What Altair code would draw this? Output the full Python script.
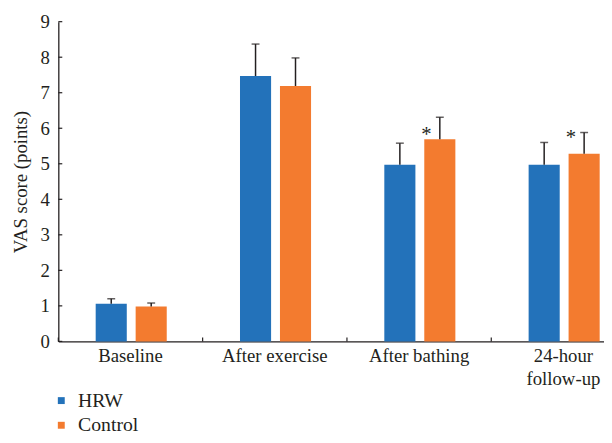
import altair as alt
import pandas as pd

categories = ["Baseline", "After exercise", "After bathing", "24-hour follow-up"]
groups = ["HRW", "Control"]
hrw_mean = [1.06, 7.47, 4.97, 4.97]
hrw_sd = [0.14, 0.90, 0.61, 0.63]
control_mean = [0.98, 7.19, 5.69, 5.28]
control_sd = [0.10, 0.79, 0.62, 0.60]
star_categories = ["After bathing", "24-hour follow-up"]
star_y = [5.63, 5.57]
y_ticks = [0, 1, 2, 3, 4, 5, 6, 7, 8, 9]
colors = ["#2372BA", "#F37B2F"]

rows = []
for c, m, s in zip(categories, hrw_mean, hrw_sd):
    rows.append({"cat": c, "group": "HRW", "mean": m, "upper": round(m + s, 3)})
for c, m, s in zip(categories, control_mean, control_sd):
    rows.append({"cat": c, "group": "Control", "mean": m, "upper": round(m + s, 3)})
df = pd.DataFrame(rows)
stars_df = pd.DataFrame({"cat": star_categories, "group": ["Control"] * len(star_categories),
                         "mean": star_y, "label": ["*"] * len(star_categories)})
yticks_df = pd.DataFrame({"mean": y_ticks})
xticks_df = pd.DataFrame({"cat": categories})

FONT = "Liberation Serif"
INK = "#231f20"
YTITLE = "VAS score (points)"

xscale = alt.Scale(domain=categories, paddingInner=0, paddingOuter=0)
xaxis = alt.Axis(title=None, labelAngle=0, labelPadding=5, ticks=False, tickSize=0,
                 labelOverlap=False, labelLineHeight=24,
                 labelExpr="datum.label == '24-hour follow-up' ? ['24-hour', 'follow-up'] : datum.label")
yscale = alt.Scale(domain=[0, 9], nice=False)
yaxis = alt.Axis(title=YTITLE, values=y_ticks, ticks=False, tickSize=0, grid=False,
                 labelPadding=9, titlePadding=10)
xoff = alt.XOffset("group:N", sort=groups,
                   scale=alt.Scale(domain=groups, paddingInner=0.222, paddingOuter=0.9166,
                                   align=0.51))

X = alt.X("cat:N", sort=categories, scale=xscale, axis=xaxis)
Y = alt.Y("mean:Q", scale=yscale, axis=yaxis, title=YTITLE)

bars = alt.Chart(df).mark_bar().encode(
    x=X, y=Y, xOffset=xoff,
    color=alt.Color("group:N", sort=groups, scale=alt.Scale(domain=groups, range=colors),
                    legend=alt.Legend(title=None, orient="none", legendX=-7, legendY=374,
                                      direction="vertical", symbolType="square",
                                      symbolSize=49, symbolStrokeWidth=0,
                                      labelFont=FONT, labelColor=INK,
                                      labelFontSize=20, labelOffset=7, rowPadding=5)),
)

err = alt.Chart(df).mark_rule(color=INK, strokeWidth=1.5).encode(
    x=X, xOffset=xoff, y=Y, y2="upper:Q"
)
caps = alt.Chart(df).mark_tick(color=INK, thickness=1.5, size=8).encode(
    x=X, xOffset=xoff, y=alt.Y("upper:Q", scale=yscale, axis=yaxis, title=YTITLE)
)
stars = alt.Chart(stars_df).mark_text(font=FONT, fontSize=21, dx=-13.5, baseline="alphabetic",
                                      color=INK).encode(
    x=X, xOffset=xoff, y=Y, text="label:N"
)
ytick_rules = alt.Chart(yticks_df).mark_rule(color=INK, strokeWidth=1.2).encode(
    y=Y, x=alt.value(0), x2=alt.value(4)
)
xtick_rules = alt.Chart(xticks_df).mark_rule(color=INK, strokeWidth=1.2).encode(
    x=alt.X("cat:N", sort=categories, scale=xscale, axis=xaxis, bandPosition=0),
    y=alt.value(320), y2=alt.value(324)
)

chart = alt.layer(bars, err, caps, stars, ytick_rules, xtick_rules).properties(
    width=585, height=324,
    autosize=alt.AutoSizeParams(type="none"),
    padding={"left": 51, "top": 11, "right": -32, "bottom": 92},
    background="white",
).configure_view(stroke=None).configure_axis(
    labelFont=FONT, titleFont=FONT, labelFontSize=19, titleFontSize=19,
    titleFontWeight="normal", labelColor=INK, titleColor=INK,
    domainColor=INK, domainWidth=1.3,
).configure_legend(labelFont=FONT, labelColor=INK)

chart.save("out.html", embed_options={"renderer": "svg", "actions": False})
